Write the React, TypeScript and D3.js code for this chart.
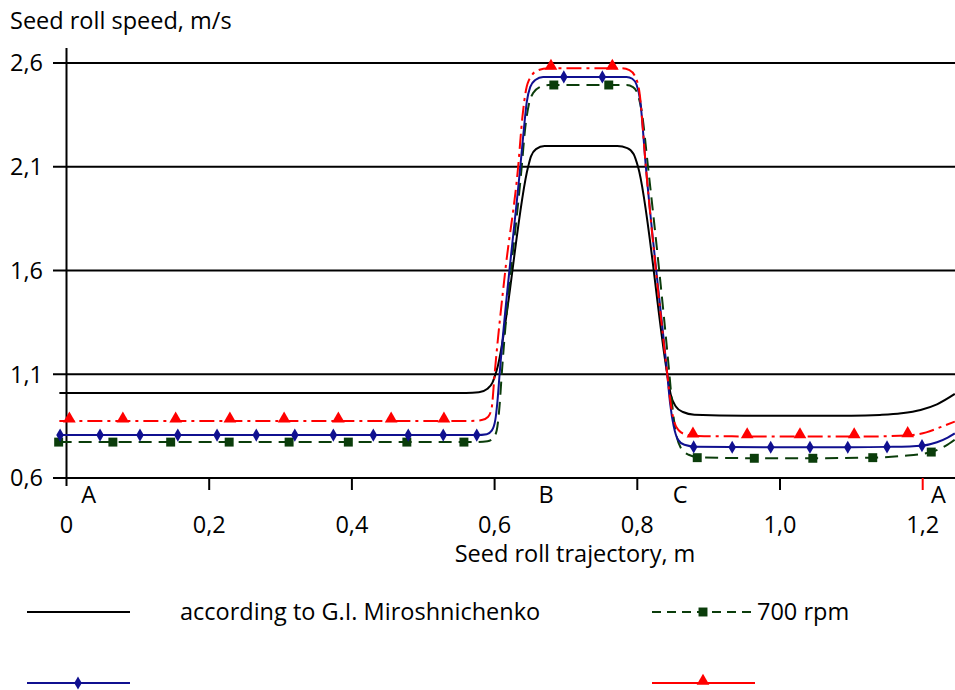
import React from 'react';
import * as d3 from 'd3';

type Pt = [number, number];

// curve points [trajectory m, speed m/s]
const miroshnichenko: Pt[] = [
  [-0.01, 1.01], [0.56, 1.01], [0.578, 1.013], [0.59, 1.03], [0.597, 1.06], [0.603, 1.12],
  [0.647, 2.1], [0.651, 2.15], [0.658, 2.185], [0.67, 2.2], [0.772, 2.2], [0.786, 2.19],
  [0.795, 2.16], [0.801, 2.1], [0.842, 1.1], [0.847, 1.0], [0.854, 0.945], [0.864, 0.918],
  [0.88, 0.905], [0.95, 0.9], [1.1, 0.9], [1.14, 0.904], [1.17, 0.912], [1.197, 0.928],
  [1.22, 0.955], [1.245, 1.005],
];

const rpm700: Pt[] = [
  [-0.011, 0.773], [0.575, 0.773], [0.59, 0.777], [0.598, 0.792], [0.603, 0.83], [0.607, 0.95],
  [0.61, 1.1], [0.638, 2.1], [0.643, 2.29], [0.648, 2.4], [0.654, 2.455], [0.663, 2.483],
  [0.676, 2.494], [0.785, 2.494], [0.794, 2.484], [0.8, 2.455], [0.806, 2.37], [0.815, 2.1],
  [0.845, 1.1], [0.849, 0.95], [0.854, 0.82], [0.861, 0.745], [0.872, 0.712], [0.888, 0.699],
  [1.0, 0.695], [1.13, 0.698], [1.17, 0.706], [1.212, 0.725], [1.232, 0.755], [1.245, 0.785],
];

const rpm900: Pt[] = [
  [-0.01, 0.807], [0.575, 0.807], [0.589, 0.811], [0.596, 0.828], [0.601, 0.88], [0.604, 0.97],
  [0.607, 1.1], [0.636, 2.1], [0.641, 2.28], [0.645, 2.41], [0.65, 2.485], [0.657, 2.518],
  [0.668, 2.533], [0.785, 2.533], [0.793, 2.524], [0.799, 2.495], [0.804, 2.42], [0.812, 2.1],
  [0.842, 1.1], [0.846, 0.96], [0.851, 0.85], [0.857, 0.785], [0.866, 0.76], [0.882, 0.751],
  [1.0, 0.748], [1.1, 0.748], [1.15, 0.75], [1.199, 0.756], [1.22, 0.772], [1.235, 0.795],
  [1.245, 0.815],
];

const rpm1100: Pt[] = [
  [-0.01, 0.875], [0.565, 0.875], [0.582, 0.879], [0.591, 0.895], [0.596, 0.94], [0.6, 1.1],
  [0.615, 1.6], [0.633, 2.1], [0.639, 2.34], [0.644, 2.47], [0.651, 2.535], [0.661, 2.565],
  [0.675, 2.575], [0.778, 2.575], [0.789, 2.566], [0.797, 2.535], [0.803, 2.46], [0.812, 2.1],
  [0.842, 1.1], [0.846, 0.98], [0.851, 0.88], [0.858, 0.83], [0.868, 0.81], [0.885, 0.802],
  [1.0, 0.8], [1.12, 0.8], [1.179, 0.805], [1.205, 0.82], [1.225, 0.845], [1.245, 0.872],
];

// marker positions
const rpm700Marks: Pt[] = [
  [-0.011, 0.773], [0.065, 0.773], [0.146, 0.773], [0.228, 0.773], [0.312, 0.773], [0.395, 0.773],
  [0.477, 0.773], [0.557, 0.773], [0.683, 2.494], [0.76, 2.494], [0.884, 0.698], [0.964, 0.695],
  [1.046, 0.695], [1.13, 0.698], [1.212, 0.725],
];
const rpm900Marks: Pt[] = [
  [-0.009, 0.807], [0.047, 0.807], [0.103, 0.807], [0.156, 0.807], [0.211, 0.807], [0.266, 0.807],
  [0.32, 0.807], [0.374, 0.807], [0.43, 0.807], [0.479, 0.807], [0.528, 0.807], [0.575, 0.807],
  [0.697, 2.533], [0.751, 2.533], [0.879, 0.75], [0.933, 0.748], [0.987, 0.748], [1.042, 0.748],
  [1.095, 0.748], [1.15, 0.75], [1.199, 0.756],
];
const rpm1100Marks: Pt[] = [
  [0.004, 0.875], [0.079, 0.875], [0.153, 0.875], [0.229, 0.875], [0.305, 0.875], [0.381, 0.875],
  [0.455, 0.875], [0.529, 0.875], [0.679, 2.575], [0.765, 2.575], [0.878, 0.803], [0.954, 0.8],
  [1.028, 0.8], [1.104, 0.8], [1.179, 0.805],
];

const yTicks = [0.6, 1.1, 1.6, 2.1, 2.6];
const xTicks = [0, 0.2, 0.4, 0.6, 0.8, 1.0, 1.2];
const pointLabels: [string, number][] = [['A', 0.031], ['B', 0.672], ['C', 0.86], ['A', 1.222]];

const FONT = '"Open Sans", sans-serif';
const FS = 23.5;
const BLACK = '#000000';
const NAVY = '#101090';
const GREEN = '#0b3d0b';
const RED = '#ff0000';

const W = 955;
const H = 690;

const x = d3.scaleLinear().domain([0, 1.2]).range([66.5, 922.7]);
const y = d3.scaleLinear().domain([0.6, 2.6]).range([478, 63]);

const line = d3.line<Pt>()
  .x(d => x(d[0]))
  .y(d => y(d[1]))
  .curve(d3.curveMonotoneX);

const diamond = d3.symbol().type(d3.symbolDiamond).size(50)();
const square = d3.symbol().type(d3.symbolSquare).size(80)();
const triangle = d3.symbol().type(d3.symbolTriangle).size(70)();

const fmt = (v: number) => (v === 0 ? '0' : v.toFixed(1).replace('.', ','));

export default function App() {
  const axisY = y(0.6);
  return (
    <svg width={W} height={H} style={{ position: 'absolute', left: 0, top: 0, background: '#fff' }}
      fontFamily={FONT}>
      <text x={10} y={29} fontSize={FS}>Seed roll speed, m/s</text>

      {/* horizontal grid + axis */}
      {yTicks.map(t => (
        <g key={t}>
          <line x1={53} x2={W} y1={y(t)} y2={y(t)} stroke={BLACK} strokeWidth={2} />
          <text x={43} y={y(t)} dy="0.36em" textAnchor="end" fontSize={FS}>{fmt(t)}</text>
        </g>
      ))}
      <line x1={x(0)} x2={x(0)} y1={48} y2={486} stroke={BLACK} strokeWidth={2} />

      {xTicks.map(t => (
        <g key={t}>
          {t > 0 && (
            <line x1={x(t)} x2={x(t)} y1={axisY} y2={axisY + 12}
              stroke={t === 1.2 ? RED : BLACK} strokeWidth={2} />
          )}
          <text x={x(t)} y={533} textAnchor="middle" fontSize={FS}>{fmt(t)}</text>
        </g>
      ))}
      {pointLabels.map(([s, v], i) => (
        <text key={i} x={x(v)} y={503} textAnchor="middle" fontSize={FS}>{s}</text>
      ))}
      <text x={575} y={562} textAnchor="middle" fontSize={FS}>Seed roll trajectory, m</text>

      {/* curves */}
      <path d={line(miroshnichenko) || ''} fill="none" stroke={BLACK} strokeWidth={2} />
      <path d={line(rpm700) || ''} fill="none" stroke={GREEN} strokeWidth={2} strokeDasharray="13 7" />
      <path d={line(rpm900) || ''} fill="none" stroke={NAVY} strokeWidth={2} />
      <path d={line(rpm1100) || ''} fill="none" stroke={RED} strokeWidth={2} strokeDasharray="15 5 3 5" />

      {rpm700Marks.map((d, i) => (
        <path key={'g' + i} d={square || ''} transform={`translate(${x(d[0])},${y(d[1])})`} fill={GREEN} />
      ))}
      {rpm900Marks.map((d, i) => (
        <path key={'b' + i} d={diamond || ''} transform={`translate(${x(d[0])},${y(d[1])})`} fill={NAVY} />
      ))}
      {rpm1100Marks.map((d, i) => (
        <path key={'r' + i} d={triangle || ''} transform={`translate(${x(d[0])},${y(d[1]) - 2})`} fill={RED} />
      ))}

      {/* legend */}
      <line x1={27} x2={130} y1={612} y2={612} stroke={BLACK} strokeWidth={2} />
      <text x={180} y={620} fontSize={FS}>according to G.I. Miroshnichenko</text>
      <line x1={652} x2={755} y1={612} y2={612} stroke={GREEN} strokeWidth={2} strokeDasharray="9 6" />
      <path d={square || ''} transform="translate(703,612)" fill={GREEN} />
      <text x={757} y={620} fontSize={FS}>700 rpm</text>
      <line x1={27} x2={130} y1={683} y2={683} stroke={NAVY} strokeWidth={2} />
      <path d={diamond || ''} transform="translate(78,683)" fill={NAVY} />
      <line x1={652} x2={755} y1={683} y2={683} stroke={RED} strokeWidth={2} />
      <path d={triangle || ''} transform="translate(703,681)" fill={RED} />
    </svg>
  );
}
